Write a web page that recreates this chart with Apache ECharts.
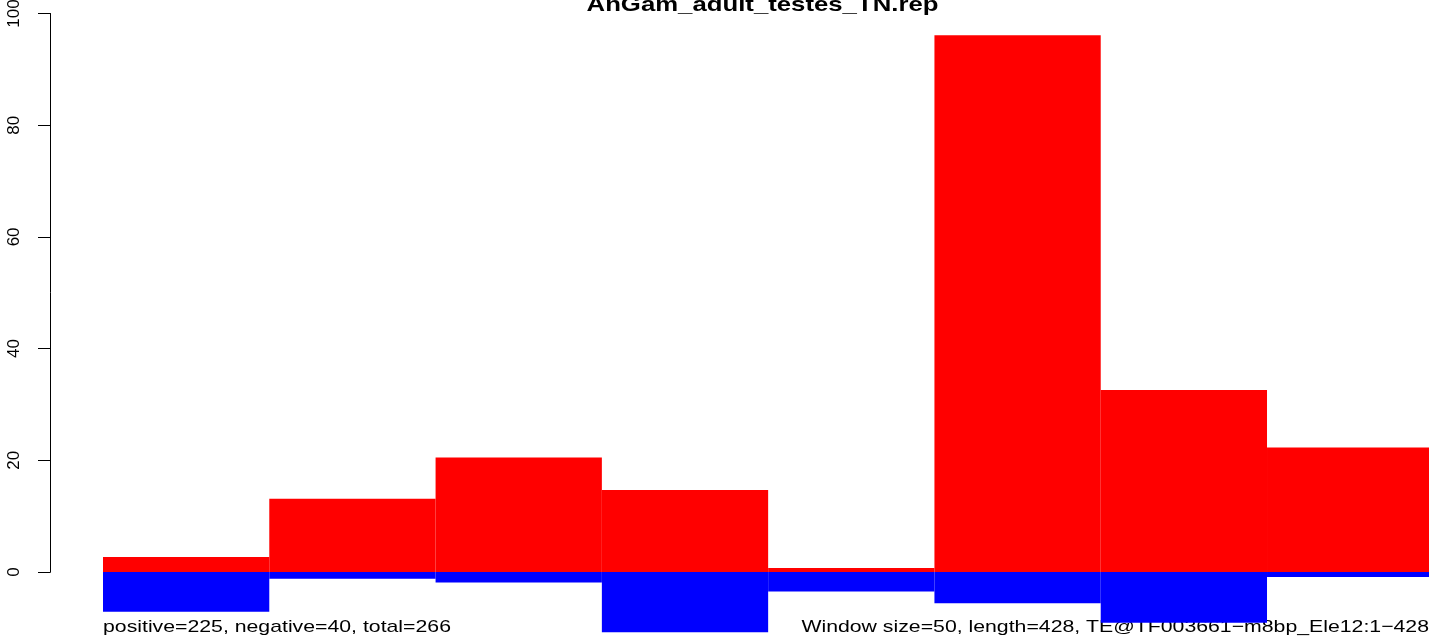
<!DOCTYPE html>
<html>
<head>
<meta charset="utf-8">
<script src="https://cdn.jsdelivr.net/npm/echarts@6/dist/echarts.min.js"></script>
<style>
html,body{margin:0;padding:0;background:#fff;}
#c{width:1429px;height:639px;}
</style>
</head>
<body>
<div id="c"></div>
<script>
var titleText = 'AnGam_adult_testes_TN.rep';
var leftNote = 'positive=225, negative=40, total=266';
var rightNote = 'Window size=50, length=428, TE@TF003661\u2212m8bp_Ele12:1\u2212428';
var categories = ['1','2','3','4','5','6','7','8'];
var positiveValues = [2.7, 13.1, 20.5, 14.7, 0.7, 96.1, 32.6, 22.3];
var negativeValues = [-7.1, -1.2, -1.9, -10.8, -3.5, -5.6, -9.1, -0.9];
var yTicks = [0, 20, 40, 60, 80, 100];

var FONT = '"Liberation Sans", Arial, Helvetica, sans-serif';
var chart = echarts.init(document.getElementById('c'), null, {renderer: 'canvas'});
var option = {
  animation: false,
  backgroundColor: '#ffffff',
  grid: [
    {left: 103, right: -4.3, top: 13.5, bottom: 0, outerBoundsMode: 'none', containLabel: false},
    {left: 103, right: -4.3, top: 13.5, bottom: 67, outerBoundsMode: 'none', containLabel: false}
  ],
  xAxis: [
    {type: 'category', gridIndex: 0, data: categories, boundaryGap: true, show: false},
    {type: 'category', gridIndex: 1, data: categories, show: false}
  ],
  yAxis: [
    {type: 'value', gridIndex: 0, min: -12, max: 100, show: false},
    {type: 'value', gridIndex: 1, min: yTicks[0], max: yTicks[yTicks.length - 1], interval: 20,
     offset: 52.5,
     axisLine: {show: true, lineStyle: {color: '#000', width: 1}},
     axisTick: {show: true, length: 12.5, lineStyle: {color: '#000', width: 1}},
     splitLine: {show: false},
     axisLabel: {rotate: 90, margin: 28, color: '#000', fontSize: 17, fontFamily: FONT,
       formatter: function (v) { return yTicks.indexOf(v) >= 0 ? String(v) : ''; }}
    }
  ],
  series: [
    {type: 'bar', xAxisIndex: 0, yAxisIndex: 0, data: positiveValues, barWidth: '100%', barGap: '-100%',
     itemStyle: {color: '#ff0000'}, silent: true},
    {type: 'bar', xAxisIndex: 0, yAxisIndex: 0, data: negativeValues, barWidth: '100%', barGap: '-100%',
     itemStyle: {color: '#0000ff'}, silent: true}
  ],
  graphic: [
    {type: 'text', x: 762.5, y: 5, scaleX: 1.25, silent: true,
     style: {text: titleText, fill: '#000', font: 'bold 20.6px ' + FONT, textAlign: 'center', textVerticalAlign: 'middle'}},
    {type: 'text', x: 103, y: 627, scaleX: 1.25, silent: true,
     style: {text: leftNote, fill: '#000', font: '17px ' + FONT, textAlign: 'left', textVerticalAlign: 'middle'}},
    {type: 'text', x: 1429, y: 627, scaleX: 1.25, silent: true,
     style: {text: rightNote, fill: '#000', font: '17px ' + FONT, textAlign: 'right', textVerticalAlign: 'middle'}}
  ]
};
chart.setOption(option);
</script>
</body>
</html>
